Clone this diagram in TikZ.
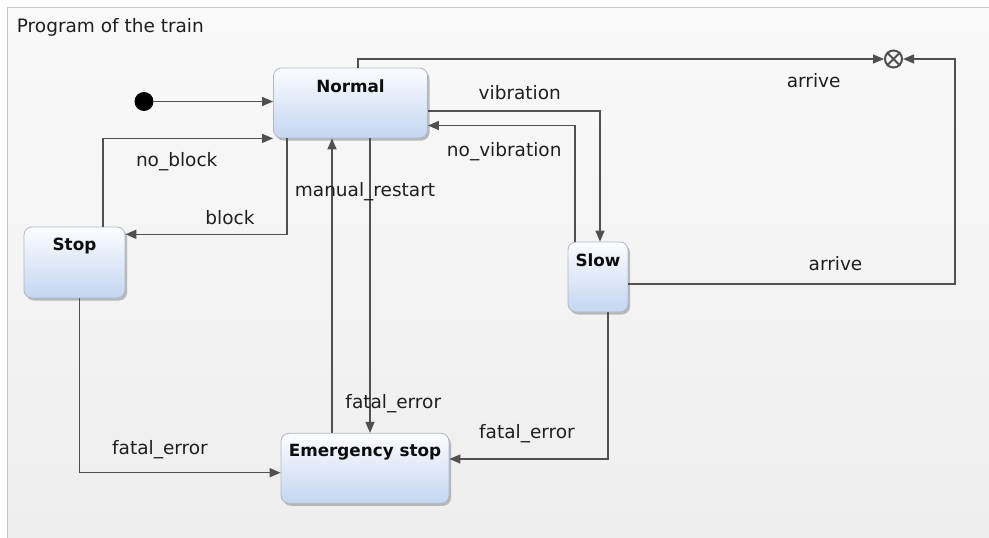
\documentclass[tikz,border=0pt]{standalone}
\usepackage{fontspec}
\setmainfont{DejaVu Sans}
\usetikzlibrary{arrows.meta,shadows,calc}

\definecolor{linec}{HTML}{505050}
\definecolor{boxedge}{HTML}{B0B8C4}
\definecolor{boxtop}{HTML}{FBFCFF}
\definecolor{boxbot}{HTML}{C4D6F1}
\definecolor{bgtop}{HTML}{F9F9F9}
\definecolor{bgbot}{HTML}{EEEEEE}
\definecolor{framec}{HTML}{C6C6C6}

\tikzset{
  state/.style={draw=boxedge, line width=0.8pt, rounded corners=8pt,
    top color=boxtop, bottom color=boxbot, inner sep=0pt,
    drop shadow={shadow xshift=2pt, shadow yshift=-2.5pt, opacity=0.35, fill=black!70}},
  stitle/.style={font=\fontsize{16.8}{20}\selectfont\bfseries, anchor=base,
    text=black!95, inner sep=0pt},
  lbl/.style={font=\fontsize{18.5}{22}\selectfont, anchor=base, text=black!88, inner sep=0pt},
  tr/.style={draw=linec, line width=1.5pt, -{Triangle[length=11pt,width=9pt]}},
}

\begin{document}
\begin{tikzpicture}[x=1pt,y=-1pt]
  \useasboundingbox (0,0) rectangle (989,538);
  % frame of the state machine
  \fill[white] (0,0) rectangle (989,538);
  \shade[top color=bgtop, bottom color=bgbot] (7,7) rectangle (989,538);
  \draw[framec, line width=1pt] (7,538) -- (7,7) -- (989,7);
  \node[lbl, anchor=base west] (title) at (16.7,32.7) {Program of the train};

  % states
  \node[state, minimum width=154pt, minimum height=70pt] (normal) at (350.5,103) {};
  \node[state, minimum width=101pt, minimum height=71pt] (stop) at (74.5,262.5) {};
  \node[state, minimum width=60pt, minimum height=70pt] (slow) at (598,277) {};
  \node[state, minimum width=168pt, minimum height=70pt] (emerg) at (365,468.3) {};

  \node[stitle] (normal-t) at (350.5,92.5) {Normal};
  \node[stitle] (stop-t) at (74.5,250.5) {Stop};
  \node[stitle] (slow-t) at (598,266) {Slow};
  \node[stitle] (emerg-t) at (365,456.5) {Emergency stop};

  % initial and final pseudo states
  \node[circle, fill=black, minimum size=19pt, inner sep=0pt] (init) at (144,101.5) {};
  \node[circle, draw=linec, line width=2pt, minimum size=17pt, inner sep=0pt] (final) at (893.5,59) {};
  \draw[linec, line width=1.8pt] (final.north east) -- (final.south west)
                                 (final.north west) -- (final.south east);
  \coordinate (rc) at (955,59);

  % transitions
  \draw[tr] (init) -- (init -| normal.west);
  \draw[tr] ([xshift=7.5pt]normal.north) |- (final);
  \draw[tr] ([yshift=-7pt]slow.east) -| (rc) -- (final);
  \draw[tr] ([yshift=-8pt]normal.east) -| ([xshift=2pt]slow.north);
  \draw[tr] ([xshift=-23pt]slow.north) |- ([yshift=-22.5pt]normal.east);
  \draw[tr] ([xshift=28.5pt]stop.north) |- (normal.south west);
  \draw[tr] ([xshift=-63.5pt]normal.south) |- ([yshift=28.2pt]stop.east);
  \draw[tr] ([xshift=-33pt]emerg.north) -- ([xshift=-33pt]emerg.north |- normal.south);
  \draw[tr] ([xshift=19.5pt]normal.south) -- ([xshift=19.5pt]normal.south |- emerg.north);
  \draw[tr] ([xshift=4.8pt]stop.south) |- ([yshift=-4.4pt]emerg.west);
  \draw[tr] ([xshift=10pt]slow.south) |- ([yshift=9.3pt]emerg.east);

  % transition labels
  \node[lbl] (l-arrive1) at (813.7,87.7) {arrive};
  \node[lbl] (l-arrive2) at (835.5,270.3) {arrive};
  \node[lbl] (l-vib) at (519.8,99.3) {vibration};
  \node[lbl] (l-novib) at (504.2,156.7) {no\_vibration};
  \node[lbl] (l-noblock) at (176.7,166) {no\_block};
  \node[lbl] (l-block) at (230,224.3) {block};
  \node[lbl] (l-restart) at (365,196) {manual\_restart};
  \node[lbl] (l-fatal1) at (393.3,408.7) {fatal\_error};
  \node[lbl] (l-fatal2) at (160,454.3) {fatal\_error};
  \node[lbl] (l-fatal3) at (527,438) {fatal\_error};
\end{tikzpicture}
\end{document}
